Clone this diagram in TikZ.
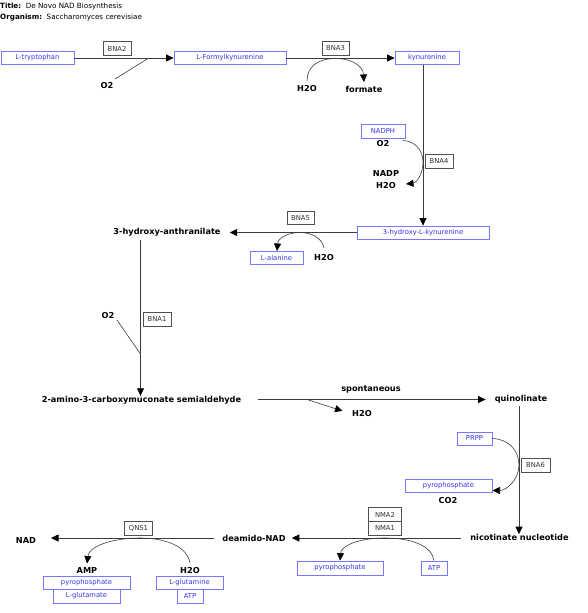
\documentclass[tikz,border=0pt]{standalone}
\usepackage{fontspec}
\setmainfont{DejaVu Sans}
\usetikzlibrary{arrows.meta}
\definecolor{metborder}{RGB}{120,120,255}
\definecolor{mettext}{RGB}{50,50,235}
\definecolor{enzborder}{RGB}{80,80,80}
\definecolor{enztext}{RGB}{50,50,50}
\definecolor{linecol}{RGB}{60,60,60}
\newcommand{\fsreg}{\fontsize{6.8}{8}\selectfont}
\newcommand{\fsbold}{\fontsize{8.2}{9.5}\selectfont\bfseries}
\tikzset{
  met/.style={draw=metborder, text=mettext, font=\fsreg, inner sep=0pt, minimum height=13pt, line width=0.8pt},
  enz/.style={draw=enzborder, text=enztext, font=\fsreg, inner sep=0pt, minimum height=13.5pt, minimum width=28pt, line width=0.7pt},
  cmp/.style={font=\fsbold, inner sep=0pt},
  rxn/.style={draw=linecol, line width=0.8pt},
  side/.style={draw=linecol, line width=0.6pt},
  arr/.style={-{Triangle[length=7.5pt,width=7pt,color=black]}},
}
\begin{document}
\begin{tikzpicture}[x=1pt,y=-1pt]
\useasboundingbox (0,0) rectangle (587,613);
% header
\node[anchor=west, font=\fontsize{7.2}{8}\selectfont, inner sep=0pt] (title) at (0,7) {\textbf{Title:}\ \ De Novo NAD Biosynthesis};
\node[anchor=west, font=\fontsize{7.2}{8}\selectfont, inner sep=0pt] (org) at (0,17.5) {\textbf{Organism:}\ \ Saccharomyces cerevisiae};

% row 1
\node[met, minimum width=73pt] (trp) at (37.5,58) {L-tryptophan};
\node[enz] (bna2) at (117,48.5) {BNA2};
\node[met, minimum width=112pt] (fk) at (230,58) {L-Formylkynurenine};
\node[enz, minimum width=27pt] (bna3) at (335.5,48.5) {BNA3};
\node[met, minimum width=64pt] (kyn) at (427,58) {kynurenine};
\node[cmp] (o2a) at (107,86) {O2};
\node[cmp] (h2oa) at (307,89) {H2O};
\node[cmp] (formate) at (364,89) {formate};
\draw[rxn, arr] (trp) -- (fk);
\draw[rxn, arr] (fk) -- (kyn);
\coordinate (o2as) at (115,79);
\coordinate (o2ae) at (148,58.5);
\draw[side] (o2as) -- (o2ae);
\coordinate (b3s) at (307,81);
\coordinate (b3m) at (335,58.5);
\coordinate (b3e) at (364,82);
\draw[side, arr] (b3s) .. controls (307,66) and (319,58.5) .. (b3m) .. controls (352,58.5) and (363,66) .. (b3e);

% BNA4
\node[met, minimum width=44pt, minimum height=14pt] (nadph) at (383,131) {NADPH};
\node[cmp] (o2b) at (383,143.5) {O2};
\node[enz] (bna4) at (439,161.5) {BNA4};
\node[cmp] (nadp) at (386,174) {NADP};
\node[cmp] (h2ob) at (386,185.5) {H2O};
\node[met, minimum width=132pt] (hk) at (423,232.5) {3-hydroxy-L-kynurenine};
\coordinate (kynb) at (423,64.5);
\draw[rxn, arr] (kynb) -- (hk.north);
\coordinate (b4s) at (403,140.5);
\coordinate (b4m) at (423,162);
\coordinate (b4e) at (406,184);
\draw[side, arr] (b4s) .. controls (415,141) and (423,150) .. (b4m) .. controls (423,175) and (416,183) .. (b4e);

% BNA5
\node[cmp] (anth) at (167,232.5) {3-hydroxy-anthranilate};
\node[enz, minimum width=27pt] (bna5) at (300.5,218) {BNA5};
\node[met, minimum width=53pt] (lala) at (276.5,257.5) {L-alanine};
\node[cmp] (h2oc) at (324,258) {H2O};
\draw[rxn, arr, shorten >=9pt] (hk) -- (anth);
\coordinate (b5s) at (324,248);
\coordinate (b5m) at (300,232.5);
\coordinate (b5e) at (277,251);
\draw[side, arr] (b5s) .. controls (322,237) and (310,232.5) .. (b5m) .. controls (288,232.5) and (278,238) .. (b5e);

% BNA1
\node[enz] (bna1) at (157,319.5) {BNA1};
\node[cmp] (o2c) at (108,315.5) {O2};
\node[cmp] (acms) at (141.5,400) {2-amino-3-carboxymuconate semialdehyde};
\coordinate (anthb) at (140.5,240);
\draw[rxn, arr] (anthb) -- (acms.north -| anthb);
\coordinate (o2cs) at (117,320);
\coordinate (o2ce) at (140.5,354);
\draw[side] (o2cs) -- (o2ce);

% spontaneous
\node[cmp] (spont) at (371,389) {spontaneous};
\node[cmp] (quin) at (521,399.5) {quinolinate};
\node[cmp] (h2od) at (362,414) {H2O};
\coordinate (acmsr) at (258,399.5);
\draw[rxn, arr, shorten >=9pt] (acmsr) -- (quin);
\coordinate (sps) at (307,399.5);
\draw[side, arr, shorten >=10pt] (sps) -- (h2od.west);

% BNA6
\node[met, minimum width=35pt] (prpp) at (474.5,438.5) {PRPP};
\node[enz, minimum width=29pt] (bna6) at (535.5,465.5) {BNA6};
\node[met, minimum width=87pt] (ppi1) at (448.5,485.5) {pyrophosphate};
\node[cmp] (co2) at (448,500.5) {CO2};
\node[cmp] (nn) at (519.5,537.5) {nicotinate nucleotide};
\coordinate (quinb) at (519,406);
\draw[rxn, arr] (quinb) -- (nn.north -| quinb);
\coordinate (b6m) at (519,465);
\coordinate (b6e) at (492.5,490.5);
\draw[side, arr] (prpp.east) .. controls (508,439) and (519,450) .. (b6m) .. controls (519,480) and (506,490.5) .. (b6e);

% NMA
\node[enz, minimum width=33pt, minimum height=14pt] (nma2) at (385,514.5) {NMA2};
\node[enz, minimum width=33pt, minimum height=14pt] (nma1) at (385,528.5) {NMA1};
\node[cmp] (deam) at (254,538) {deamido-NAD};
\node[met, minimum width=86pt, minimum height=14pt] (ppi2) at (340,568) {pyrophosphate};
\node[met, minimum width=26pt, minimum height=14pt] (atp1) at (434,568) {ATP};
\coordinate (nnl) at (461,538);
\draw[rxn, arr, shorten >=6pt] (nnl) -- (deam);
\coordinate (nmam) at (385,538);
\draw[side, arr] (atp1.north) .. controls (432,546) and (412,538) .. (nmam) .. controls (358,538) and (341,546) .. (ppi2.north);

% QNS1
\node[enz] (qns1) at (138.5,528.5) {QNS1};
\node[cmp] (nad) at (26,540.5) {NAD};
\node[cmp] (amp) at (87,570.5) {AMP};
\node[cmp] (h2oe) at (190,570.5) {H2O};
\node[met, minimum width=87pt] (ppi3) at (86.5,582.5) {pyrophosphate};
\node[met, minimum width=67pt, minimum height=14pt] (lglu) at (86.5,596) {L-glutamate};
\node[met, minimum width=67pt] (lgln) at (189.5,582.5) {L-glutamine};
\node[met, minimum width=26pt, minimum height=14pt] (atp2) at (190,596) {ATP};
\coordinate (deaml) at (214,538);
\coordinate (nadr) at (51,538);
\draw[rxn, arr] (deaml) -- (nadr);
\coordinate (qm) at (140,538);
\coordinate (qs) at (190,563);
\coordinate (qe) at (87,563.5);
\draw[side, arr] (qs) .. controls (187,546) and (165,538) .. (qm) .. controls (113,538) and (89,546) .. (qe);
\end{tikzpicture}
\end{document}
